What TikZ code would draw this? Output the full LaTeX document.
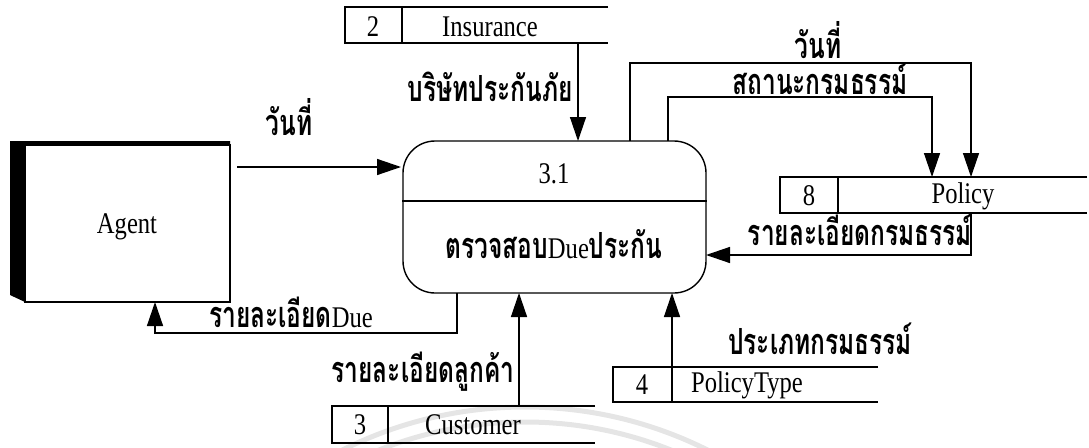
\documentclass[tikz,border=0pt]{standalone}
\usepackage{fontspec}
\usetikzlibrary{arrows.meta}
\newfontfamily\thai[Script=Thai, FakeStretch=0.68]{Loma}
\newfontfamily\lat[FakeStretch=0.82]{Liberation Serif}
\newcommand{\latin}[1]{{\lat\mdseries\fontsize{30}{30}\selectfont #1}}

\tikzset{
  flow/.style={line width=1.4pt},
  arr/.style={flow, -{Triangle[length=24pt,width=16pt]}},
  lbl/.style={inner sep=0pt, text height=26pt, text depth=2pt,
              font=\thai\bfseries\fontsize{36}{36}\selectfont},
  txt/.style={inner sep=0pt, font=\lat\fontsize{30}{30}\selectfont},
  storeline/.style={line width=1.3pt},
  faint/.style={black!10, line width=5pt},
}

\begin{document}
\begin{tikzpicture}[x=1pt, y=-1pt]
\useasboundingbox (0,0) rectangle (1089,447);

% faint seal rings at the foot of the page
\begin{scope}
  \clip (0,0) rectangle (1089,447);
  \draw[faint] (525,815) circle[radius=408];
  \draw[faint] (525,815) circle[radius=393];
\end{scope}

% external entity: Agent (box with dark side face)
\fill (10,141) -- (230,141) -- (230,145) -- (25,145) -- (25,302) -- (10,295) -- cycle;
\node[draw, fill=white, line width=1.3pt, minimum width=205pt, minimum height=157pt, inner sep=0pt]
  (agent) at (127.5,223.5) {};
\node[txt] (agentname) at (127,227) {Agent};

% process 3.1
\node[draw, fill=white, line width=1.4pt, rounded corners=32pt, minimum width=303pt, minimum height=152pt, inner sep=0pt]
  (proc) at (554.5,217) {};
\draw[line width=1.4pt] (proc.west |- 0,201) -- (proc.east |- 0,201);
\node[txt] (procid) at (554,174) {3.1};
\node[lbl] (procname) at (554,246) {ตรวจสอบ\latin{Due}ประกัน};

% data stores
\draw[storeline] (608,7) -- (345,7) -- (345,43) -- (608,43);
\draw[storeline] (402,7) -- (402,43);
\node[txt] (insno) at (373,27) {2};
\node[txt] (ins) at (490,27) {Insurance};

\draw[storeline] (1087,177) -- (780,177) -- (780,213) -- (1087,213);
\draw[storeline] (838,177) -- (838,213);
\node[txt] (polno) at (809,196) {8};
\node[txt] (pol) at (963,196) {Policy};

\draw[storeline] (878,367) -- (613,367) -- (613,402) -- (878,402);
\draw[storeline] (672,367) -- (672,402);
\node[txt] (ptno) at (642,385) {4};
\node[txt] (pt) at (747,385) {PolicyType};

\draw[storeline] (595,406) -- (332,406) -- (332,443) -- (595,443);
\draw[storeline] (388,406) -- (388,443);
\node[txt] (custno) at (360,425) {3};
\node[txt] (cust) at (473,425) {Customer};

% connector end points
\coordinate (a1) at (237,167);
\coordinate (p1) at (401,167);
\coordinate (i1) at (578,43);
\coordinate (p2) at (578,141);
\coordinate (p3) at (630,141);
\coordinate (s1) at (971,177);
\coordinate (p4) at (668,141);
\coordinate (s2) at (932,177);
\coordinate (s3) at (971,213);
\coordinate (p5) at (706,255);
\coordinate (p6) at (457,293);
\coordinate (a2) at (155,302);
\coordinate (c1) at (519,406);
\coordinate (p7) at (519,293);
\coordinate (t1) at (672,367);
\coordinate (p8) at (672,293);

% flows
\draw[arr] (a1) -- (p1);
\node[lbl] (l1) at (289,123) {วันที่};

\draw[arr] (i1) -- (p2);
\node[lbl, anchor=east] (l2) at (573,89) {บริษัทประกันภัย};

\draw[arr] (p3) -- (p3 |- 0,63) -- (s1 |- 0,63) -- (s1);
\node[lbl] (l3) at (818,46) {วันที่};

\draw[arr] (p4) -- (p4 |- 0,97) -- (s2 |- 0,97) -- (s2);
\node[lbl] (l4) at (820,82) {สถานะกรมธรรม์};

\draw[arr] (s3) -- (s3 |- p5) -- (p5);
\node[lbl] (l5) at (860,233) {รายละเอียดกรมธรรม์};

\draw[arr] (p6) -- (p6 |- 0,333) -- (a2 |- 0,333) -- (a2);
\node[lbl] (l6) at (291,315) {รายละเอียด\latin{Due}};

\draw[arr] (c1) -- (p7);
\node[lbl] (l7) at (423,370) {รายละเอียดลูกค้า};

\draw[arr] (t1) -- (p8);
\node[lbl, anchor=west] (l8) at (728,342) {ประเภทกรมธรรม์};
\end{tikzpicture}
\end{document}
